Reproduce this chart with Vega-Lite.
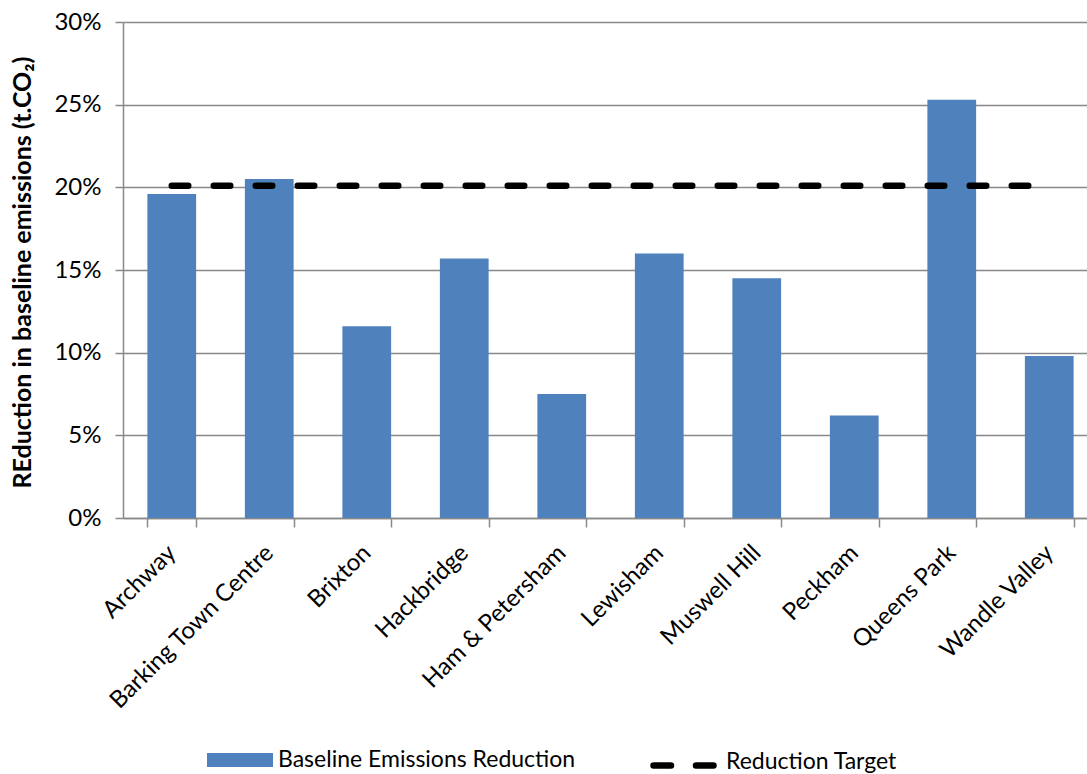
{
  "$schema": "https://vega.github.io/schema/vega-lite/v6.json",
  "width": 964,
  "height": 496,
  "autosize": "none",
  "padding": {"left": 123, "top": 22, "right": 0, "bottom": 256},
  "background": "white",
  "config": {"view": {"stroke": null}, "font": "Lato"},
  "data": {
    "values": [
      {"area": "Archway", "reduction": 0.196, "target": 0.201},
      {"area": "Barking Town Centre", "reduction": 0.205, "target": 0.201},
      {"area": "Brixton", "reduction": 0.116, "target": 0.201},
      {"area": "Hackbridge", "reduction": 0.157, "target": 0.201},
      {"area": "Ham & Petersham", "reduction": 0.075, "target": 0.201},
      {"area": "Lewisham", "reduction": 0.160, "target": 0.201},
      {"area": "Muswell Hill", "reduction": 0.145, "target": 0.201},
      {"area": "Peckham", "reduction": 0.062, "target": 0.201},
      {"area": "Queens Park", "reduction": 0.253, "target": 0.201},
      {"area": "Wandle Valley", "reduction": 0.098, "target": 0.201}
    ]
  },
  "encoding": {
    "x": {
      "field": "area",
      "type": "nominal",
      "sort": null,
      "scale": {"range": [0, 975], "paddingInner": 0.5, "paddingOuter": 0.25},
      "axis": {
        "title": null,
        "labelAngle": -45,
        "labelAlign": "right",
        "labelBaseline": "middle",
        "labelFontSize": 24,
        "labelFont": "Lato",
        "labelColor": "#000000",
        "labelPadding": 22,
        "labelLimit": 500,
        "labelOverlap": false,
        "tickBand": "extent",
        "tickSize": 9,
        "tickColor": "#898989",
        "tickWidth": 1.5,
        "domainColor": "#898989",
        "domainWidth": 1.5,
        "grid": false
      }
    }
  },
  "layer": [
    {
      "mark": {"type": "bar", "color": "#4F81BD"},
      "encoding": {
        "y": {
          "field": "reduction",
          "type": "quantitative",
          "scale": {"domain": [0, 0.3]},
          "axis": {
            "title": "REduction in baseline emissions (t.CO₂)",
            "format": ".0%",
            "values": [0, 0.05, 0.1, 0.15, 0.2, 0.25, 0.3],
            "grid": true,
            "gridColor": "#898989",
            "gridWidth": 1.5,
            "domainColor": "#898989",
            "domainWidth": 1.5,
            "tickColor": "#898989",
            "tickWidth": 1.5,
            "tickSize": 8,
            "labelPadding": 14,
            "labelFontSize": 24,
            "labelFont": "Lato",
            "labelColor": "#000000",
            "titleFont": "Lato",
            "titleFontSize": 25,
            "titleFontWeight": "bold",
            "titleColor": "#000000",
            "titleX": -101,
            "titleY": 250,
            "titleAngle": -90,
            "titleAlign": "center",
            "titleBaseline": "middle",
            "titleLimit": 600
          }
        },
        "fill": {
          "datum": "Baseline Emissions  Reduction",
          "scale": {"range": ["#4F81BD"]},
          "legend": {
            "orient": "none",
            "legendX": 84,
            "legendY": 705,
            "title": null,
            "symbolType": "M-1,-0.212H1V0.212H-1Z",
            "symbolSize": 4356,
            "symbolStrokeWidth": 0,
            "symbolOpacity": 1,
            "labelFontSize": 23,
            "labelFont": "Lato",
            "labelColor": "#000000",
            "labelOffset": 5,
            "labelLimit": 500
          }
        }
      }
    },
    {
      "mark": {"type": "line", "strokeDash": [16.5, 25.5], "strokeWidth": 6.5, "strokeCap": "round"},
      "encoding": {
        "y": {"field": "target", "type": "quantitative"},
        "stroke": {
          "datum": "Reduction Target",
          "scale": {"range": ["#000000"]},
          "legend": {
            "orient": "none",
            "legendX": 527,
            "legendY": 710,
            "title": null,
            "symbolType": "stroke",
            "symbolSize": 3600,
            "symbolStrokeWidth": 6.5,
            "symbolDash": [17.5, 25],
            "symbolStrokeColor": "#000000",
            "labelFontSize": 23,
            "labelFont": "Lato",
            "labelColor": "#000000",
            "labelOffset": 9,
            "labelLimit": 500,
            "encode": {
              "symbols": {"update": {"strokeCap": {"value": "round"}}},
              "labels": {"update": {"dy": {"value": -4}}}
            }
          }
        }
      }
    }
  ]
}
